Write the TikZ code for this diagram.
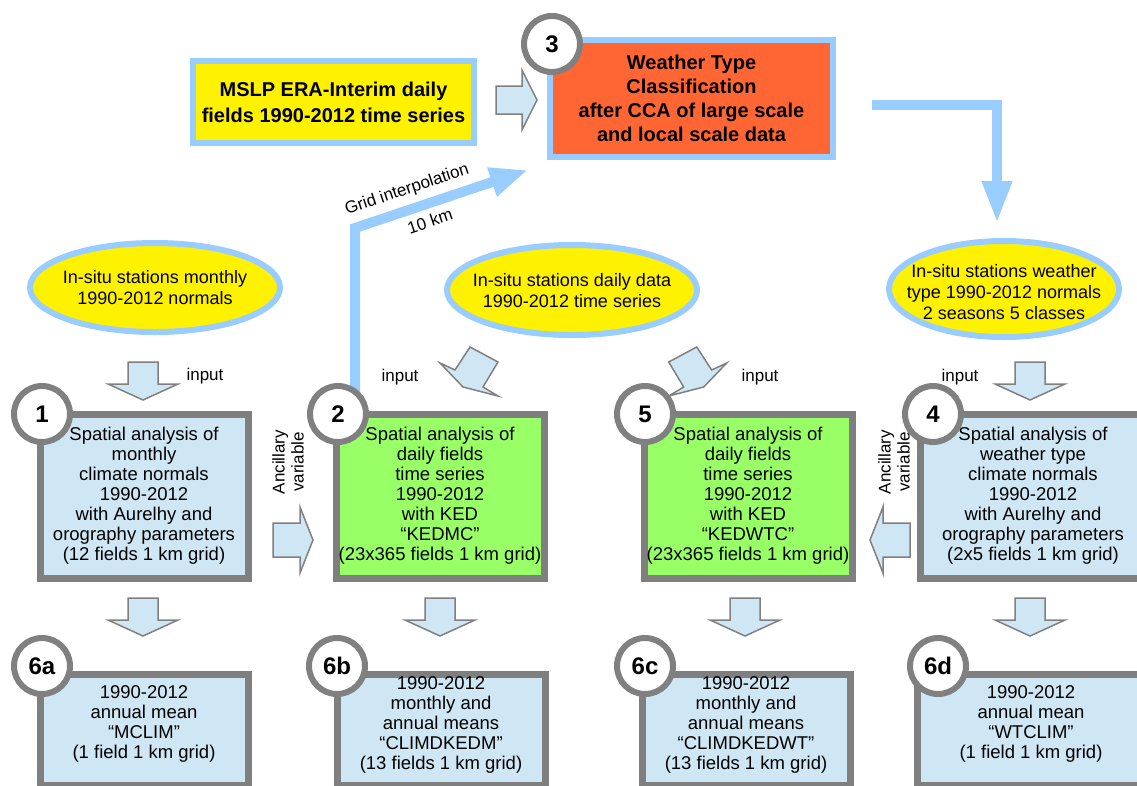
\documentclass[tikz,border=0pt]{standalone}
\usepackage{fontspec}
\setmainfont{Liberation Sans}
\usetikzlibrary{shapes.geometric,arrows.meta}
\definecolor{skyline}{HTML}{99CCFF}
\definecolor{boxfill}{HTML}{CFE7F5}
\definecolor{kedgreen}{HTML}{99FF66}
\definecolor{wtorange}{HTML}{FF6633}
\definecolor{framegray}{HTML}{7F7F7F}
\definecolor{ringgray}{HTML}{808080}
\begin{document}
\begin{tikzpicture}[x=1pt,y=-1pt,
  mainbox/.style={draw=framegray,line width=7pt,inner sep=0pt,align=center,font=\fontsize{18.5}{20}\selectfont},
  bluebox/.style={mainbox,fill=boxfill},
  greenbox/.style={mainbox,fill=kedgreen},
  boxtxt/.style={align=center,inner sep=0pt,font=\fontsize{18.5}{20}\selectfont},
  numcircle/.style={circle,draw=ringgray,line width=6pt,fill=white,minimum size=56pt,inner sep=0pt,font=\bfseries\fontsize{24}{24}\selectfont},
  srcell/.style={ellipse,draw=skyline,line width=6pt,fill=yellow,inner sep=0pt},
  srctxt/.style={align=center,inner sep=0pt,font=\fontsize{18}{21}\selectfont},
  topbox/.style={draw=skyline,line width=6pt,inner sep=0pt,align=center},
  blockarrow/.style={draw=ringgray,line width=1.5pt,fill=boxfill,line join=miter},
  flow/.style={draw=skyline,line width=10pt,line join=miter},
  lbl/.style={font=\fontsize{17}{19}\selectfont,align=center,inner sep=0pt}
]
\useasboundingbox (0,0) rectangle (1137,785);
\clip (0,0) rectangle (1137,785);

% thick light-blue flow connectors
\coordinate (gA) at (355,398);
\coordinate (gB) at (355,228);
\coordinate (gC) at (528,170);
\draw[flow,-{Triangle[length=38pt,width=28pt]}] (gA) -- (gB) -- (gC);
\coordinate (rA) at (872,105);
\coordinate (rB) at (997,105);
\coordinate (rC) at (997,223);
\draw[flow,-{Triangle[length=42pt,width=28pt]}] (rA) -- (rB) -- (rC);

% top boxes
\node[topbox,fill=yellow,minimum width=281pt,minimum height=82pt,font=\bfseries\fontsize{20}{26}\selectfont] (mslp) at (333.5,102) {MSLP ERA-Interim daily\\fields 1990-2012 time series};
\node[topbox,fill=wtorange,minimum width=283pt,minimum height=117pt,font=\bfseries\fontsize{20}{24}\selectfont] (wtc) at (691.5,98.5) {Weather Type\\Classification\\after CCA of large scale\\and local scale data};

% source ellipses
\node[srcell,minimum width=250pt,minimum height=89pt] (e1) at (155,287.5) {};
\node[srctxt] (e1t) at (155,287.5) {In-situ stations monthly\\1990-2012 normals};
\node[srcell,minimum width=250pt,minimum height=90pt] (e2) at (572,290) {};
\node[srctxt] (e2t) at (572,291) {In-situ stations daily data\\1990-2012 time series};
\node[srcell,minimum width=230pt,minimum height=96pt] (e3) at (1004,289) {};
\node[srctxt] (e3t) at (1004,292) {In-situ stations weather\\type 1990-2012 normals\\2 seasons 5 classes};

% main analysis boxes
\node[bluebox,minimum width=208pt,minimum height=164pt] (b1) at (144,496) {Spatial analysis of\\monthly\\climate normals\\1990-2012\\with Aurelhy and\\orography parameters\\(12 fields 1 km grid)};
\node[greenbox,minimum width=208pt,minimum height=164pt] (b2) at (440,496) {Spatial analysis of\\daily fields\\time series\\1990-2012\\with KED\\“KEDMC”\\(23x365 fields 1 km grid)};
\node[greenbox,minimum width=208pt,minimum height=164pt] (b5) at (748,496) {Spatial analysis of\\daily fields\\time series\\1990-2012\\with KED\\“KEDWTC”\\(23x365 fields 1 km grid)};
\node[bluebox,minimum width=226pt,minimum height=164pt] (b4) at (1033,496) {Spatial analysis of\\weather type\\climate normals\\1990-2012\\with Aurelhy and\\orography parameters\\(2x5 fields 1 km grid)};

% result boxes
\node[bluebox,minimum width=208pt,minimum height=111pt] (b6a) at (144,729.5) {};
\node[boxtxt] (t6a) at (144,724) {1990-2012\\annual mean\\“MCLIM”\\(1 field 1 km grid)};
\node[bluebox,minimum width=208pt,minimum height=111pt] (b6b) at (441,729.5) {};
\node[boxtxt] (t6b) at (441,725) {1990-2012\\monthly and\\annual means\\“CLIMDKEDM”\\(13 fields 1 km grid)};
\node[bluebox,minimum width=208pt,minimum height=111pt] (b6c) at (746,729.5) {};
\node[boxtxt] (t6c) at (746,725) {1990-2012\\monthly and\\annual means\\“CLIMDKEDWT”\\(13 fields 1 km grid)};
\node[bluebox,minimum width=228pt,minimum height=111pt] (b6d) at (1031,729.5) {};
\node[boxtxt] (t6d) at (1031,724) {1990-2012\\annual mean\\“WTCLIM”\\(1 field 1 km grid)};

% block arrows
\draw[blockarrow] (496,86) -- (522,86) -- (522,70) -- (537,100) -- (522,130) -- (522,114) -- (496,114) -- cycle;
\draw[blockarrow] (128,362) -- (158,362) -- (158,384) -- (178,384) -- (143,400) -- (108,384) -- (128,384) -- cycle;
\draw[blockarrow] (1015,362) -- (1045,362) -- (1045,384) -- (1065,384) -- (1030,400) -- (995,384) -- (1015,384) -- cycle;
\draw[blockarrow] (440,363) -- (455,370) -- (470,347) -- (498,362) -- (483,387) -- (498,396) -- (463,387) -- cycle;
\draw[blockarrow] (726.7,363) -- (711.7,370) -- (696.7,347) -- (668.7,362) -- (683.7,387) -- (668.7,396) -- (703.7,387) -- cycle;
\draw[blockarrow] (273,523) -- (300,523) -- (300,507) -- (313,540) -- (300,573) -- (300,557) -- (273,557) -- cycle;
\draw[blockarrow] (910,523) -- (883,523) -- (883,507) -- (870,540) -- (883,573) -- (883,557) -- (910,557) -- cycle;
\foreach \cx in {143,440,745,1030}{
  \draw[blockarrow] (\cx-15,598) -- (\cx+15,598) -- (\cx+15,620) -- (\cx+35,620) -- (\cx,636) -- (\cx-35,620) -- (\cx-15,620) -- cycle;
}

% number circles
\node[numcircle] (c3) at (552,44) {3};
\node[numcircle] (c1) at (42,414) {1};
\node[numcircle] (c2) at (338,414) {2};
\node[numcircle] (c5) at (645,414) {5};
\node[numcircle] (c4) at (933,414) {4};
\node[numcircle] (c6a) at (42,666) {6a};
\node[numcircle] (c6b) at (337,666) {6b};
\node[numcircle] (c6c) at (645,666) {6c};
\node[numcircle] (c6d) at (938,666) {6d};

% labels
\node[lbl] (in1) at (205,376) {input};
\node[lbl] (in2) at (400,377) {input};
\node[lbl] (in5) at (760,377) {input};
\node[lbl] (in4) at (960,377) {input};
\node[lbl,rotate=90] (anc1) at (288,462) {Ancillary\\variable};
\node[lbl,rotate=90] (anc4) at (894,462) {Ancillary\\variable};
\node[lbl,rotate=18.5] (gi) at (407,190) {Grid interpolation};
\node[lbl,rotate=18.5] (gk) at (430,221) {10 km};
\end{tikzpicture}
\end{document}
